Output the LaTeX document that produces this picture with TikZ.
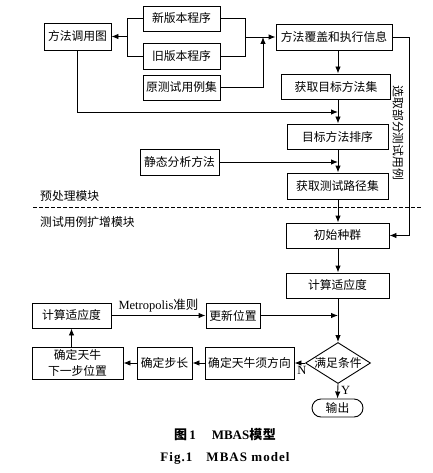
\documentclass[tikz,border=0pt]{standalone}
\usepackage{fontspec}
\setmainfont{Liberation Serif}
\newfontfamily\cjk{Noto Sans CJK SC}
\newfontfamily\capfont[LetterSpace=8]{Liberation Serif}
\newfontfamily\capcjk[LetterSpace=4]{Noto Sans CJK SC}
\usetikzlibrary{arrows.meta,shapes.geometric}
\tikzset{
  box/.style={draw, line width=0.9pt, inner sep=0pt, align=center,
    font=\cjk\fontsize{11.8}{15.5}\selectfont},
  arr/.style={line width=0.9pt, -{Latex[length=7pt,width=5.5pt]}},
  ln/.style={line width=0.9pt},
  lbl/.style={inner sep=0pt, font=\cjk\fontsize{11.8}{14}\selectfont},
  lat/.style={inner sep=0pt, font=\fontsize{12.5}{14}\selectfont},
}
\begin{document}
\begin{tikzpicture}[x=1pt,y=-1pt]
\useasboundingbox (0,0) rectangle (432,473);
% nodes
\node[box, minimum width=67pt, minimum height=27pt] (callg) at (77.5,36.5) {方法调用图};
\node[box, minimum width=77pt, minimum height=25pt] (newp) at (181.5,18.5) {新版本程序};
\node[box, minimum width=77pt, minimum height=26pt] (oldp) at (181.5,56) {旧版本程序};
\node[box, minimum width=77pt, minimum height=25pt] (orig) at (181.5,87.5) {原测试用例集};
\node[box, minimum width=116pt, minimum height=26pt] (cover) at (334,37) {方法覆盖和执行信息};
\node[box, minimum width=109pt, minimum height=25pt] (target) at (336,86.5) {获取目标方法集};
\node[box, minimum width=101pt, minimum height=25pt] (sort) at (337.5,136.5) {目标方法排序};
\node[box, minimum width=79pt, minimum height=26pt] (static) at (179.5,162) {静态分析方法};
\node[box, minimum width=101pt, minimum height=26pt] (path) at (337.5,186) {获取测试路径集};
\node[box, minimum width=103pt, minimum height=25pt] (init) at (337.5,235.5) {初始种群};
\node[box, minimum width=103pt, minimum height=25pt] (fit) at (337.5,285.5) {计算适应度};
\node[box, minimum width=79pt, minimum height=25pt] (fit2) at (71.5,315.5) {计算适应度};
\node[box, minimum width=54pt, minimum height=25pt] (upd) at (233,315.5) {更新位置};
\node[box, shape=diamond, aspect=1.6, minimum width=65pt, minimum height=41pt] (cond) at (338,363) {满足条件};
\node[box, minimum width=89pt, minimum height=32pt] (dir) at (249.5,363) {确定天牛须方向};
\node[box, minimum width=55pt, minimum height=32pt] (stepb) at (164.5,363) {确定步长};
\node[box, minimum width=91pt, minimum height=32pt] (next) at (77.5,363) {确定天牛\\下一步位置};
\node[box, rounded corners=9pt, minimum width=51pt, minimum height=18pt] (out) at (337.5,408) {输出};
% coordinates
\coordinate (jl) at (127,36.5);
\coordinate (jr) at (245,37);
\coordinate (ju) at (263,37);
\coordinate (j1) at (338,112);
\coordinate (j2) at (338,162);
\coordinate (j3) at (338,315.5);
\coordinate (dl) at (33,207);
\coordinate (dr) at (422,207);
% connectors
\draw[ln] (newp.west) -| (jl);
\draw[ln] (oldp.west) -| (jl);
\draw[arr] (jl) -- (callg.east);
\draw[ln] (newp.east) -| (jr);
\draw[ln] (oldp.east) -| (jr);
\draw[arr] (jr) -- (cover.west);
\draw[arr] (orig.east) -| (ju);
\draw[arr] (callg.south) |- (j1);
\draw[arr] (cover.south -| j1) -- (target.north -| j1);
\draw[arr] (target.south -| j1) -- (sort.north -| j1);
\draw[arr] (static.east) -- (j2);
\draw[arr] (sort.south -| j1) -- (path.north -| j1);
\draw[arr] (path.south -| j1) -- (init.north -| j1);
\draw[arr] (cover.east) -- ++(17,0) |- (init.east);
\draw[arr] (init.south -| j1) -- (fit.north -| j1);
\draw[arr] (fit.south -| j1) -- (cond.north);
\draw[arr] (upd.east) -- (j3);
\draw[arr] (fit2.east) -- node[lat, above=3pt] {Metropolis{\cjk 准则}} (upd.west);
\draw[arr] (cond.west) -- node[lat, below=3pt, pos=0.3] {N} (dir.east);
\draw[arr] (dir.west) -- (stepb.east);
\draw[arr] (stepb.west) -- (next.east);
\draw[arr] (next.north -| fit2.south) -- (fit2.south);
\draw[arr] (cond.south) -- node[lat, right=3pt, pos=0.45] {Y} (out.north);
\draw[line width=0.8pt, dash pattern=on 3.5pt off 2.5pt] (dl) -- (dr);
% labels
\node[lbl, rotate=-90] (sel) at (398,133) {选取部分测试用例};
\node[lbl, anchor=west] (pre) at (40,196) {预处理模块};
\node[lbl, anchor=west] (ext) at (40,222) {测试用例扩增模块};
\node[inner sep=0pt, font=\bfseries\fontsize{13}{15}\selectfont] (cap1) at (225,435) {{\capcjk\bfseries 图}\,1\hspace{16pt}MBAS{\capcjk\bfseries 模型}};
\node[inner sep=0pt, font=\capfont\bfseries\fontsize{13}{15}\selectfont] (cap2) at (225,458) {Fig.1\hspace{14pt}MBAS model};
\end{tikzpicture}
\end{document}
